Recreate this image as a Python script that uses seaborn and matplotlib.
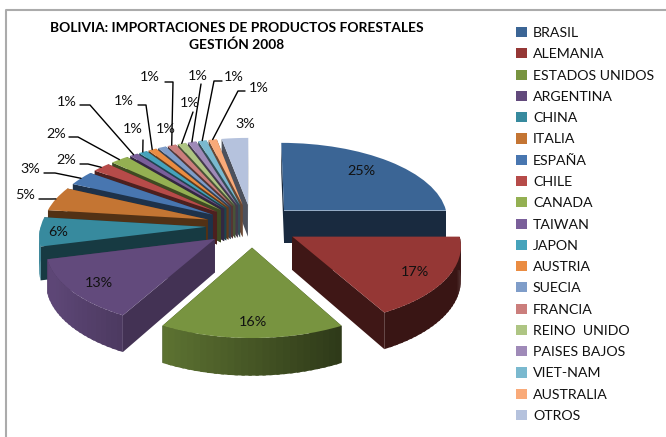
import numpy as np
import matplotlib

matplotlib.use("Agg")
import matplotlib.pyplot as plt
from matplotlib.colors import to_rgb
from matplotlib.transforms import Transform
import seaborn as sns

TITLE = "BOLIVIA: IMPORTACIONES DE PRODUCTOS FORESTALES\nGESTIÓN 2008"
COUNTRIES = [
    "BRASIL", "ALEMANIA", "ESTADOS UNIDOS", "ARGENTINA", "CHINA", "ITALIA",
    "ESPAÑA", "CHILE", "CANADA", "TAIWAN", "JAPON", "AUSTRIA", "SUECIA",
    "FRANCIA", "REINO  UNIDO", "PAISES BAJOS", "VIET-NAM", "AUSTRALIA", "OTROS",
]
SHARES = [25.0, 17.0, 16.0, 13.0, 6.0, 5.0, 3.0, 2.0, 2.0,
          0.9, 0.9, 0.9, 0.9, 0.9, 0.9, 0.9, 0.9, 0.9, 2.9]
COLORS = [
    "#3b6595", "#953735", "#789440", "#624a7c", "#378a9e", "#c47533", "#4876b0",
    "#b64b49", "#94b052", "#7a5f9a", "#46a3bb", "#ea8c42", "#7f9dc9", "#cb7e7c",
    "#aec583", "#9f8ab8", "#7ab9cf", "#f9aa79", "#b5c2dd",
]

# label centres in pixels of the 666x437 picture
LABEL_XY = [
    (361, 171), (415, 272), (253, 322), (99, 283), (58, 232), (25, 195),
    (30, 169), (66, 160), (56, 134), (67, 102), (133, 129), (124, 101),
    (166, 129), (150, 77), (190, 103), (198, 76), (234, 77), (259, 88), (245, 124),
]
# leader line points before the slice, None = no leader
LEADERS = [
    None, None, None, None, None,
    [(39, 199), (52, 199)],
    [(44, 173), (55, 173)],
    [(80, 164), (88, 164)],
    [(69, 137), (78, 137)],
    [(80, 105), (90, 105)],
    [(143, 140)],
    [(138, 105), (146, 105)],
    None,
    [(165, 82), (173, 82)],
    [(193, 112)],
    [(201, 84)],
    [(222, 81), (214, 81)],
    [(245, 91), (238, 91)],
    None,
]

# 3d look of the pie, fitted on the reference
CX, CY = 252, 225.5
RX, RY = 165, 77
PERSP = 0.097
DEPTH = 33
EXPLODE = 0.28


def project(u, v, z=0.0):
    u, v = np.asarray(u, float), np.asarray(v, float)
    s = 1 / (1 + PERSP * v)
    return CX + RX * u * s, CY - RY * v * s + DEPTH * z * s


class PieProjection(Transform):
    input_dims = 2
    output_dims = 2

    def transform_non_affine(self, values):
        x, y = project(values[:, 0], values[:, 1])
        return np.column_stack([x, y])


def darker(color, factor):
    return tuple(c * factor for c in to_rgb(color))


sns.set_theme(style="white")
plt.rcParams["font.family"] = ["Lato", "DejaVu Sans"]
palette = sns.color_palette(COLORS)

fig = plt.figure(figsize=(6.66, 4.37), dpi=100)
ax = fig.add_axes([0, 0, 1, 1])

wedges, _ = ax.pie(
    SHARES,
    colors=palette,
    startangle=90,
    counterclock=False,
    explode=[EXPLODE] * len(SHARES),
    wedgeprops={"linewidth": 0},
)
ax.set_aspect("auto")
ax.set_xlim(0, 666)
ax.set_ylim(437, 0)

projection = PieProjection() + ax.transData
back_first = sorted(range(len(wedges)), key=lambda k: -wedges[k].center[1])

for rank, k in enumerate(back_first):
    w = wedges[k]
    cu, cv = w.center
    color = palette[k]
    z = 2 + rank * 0.1
    w.set_transform(projection)
    w.set_zorder(z + 0.05)

    # flat sides of the slice
    side = darker(color, 0.68 if COUNTRIES[k] == "ARGENTINA" else 0.42)
    for angle in (w.theta1, w.theta2):
        eu, ev = cu + np.cos(np.radians(angle)), cv + np.sin(np.radians(angle))
        x0, y0 = project([cu, eu], [cv, ev])
        x1, y1 = project([eu, cu], [ev, cv], 1.0)
        ax.fill(np.r_[x0, x1], np.r_[y0, y1], color=side, lw=0, zorder=z)

    # rim, lit from the left, front half only
    steps = np.linspace(w.theta1, w.theta2, max(3, int((w.theta2 - w.theta1) / 2)))
    for a0, a1 in zip(steps[:-1], steps[1:]):
        if np.sin(np.radians((a0 + a1) / 2)) > 0:
            continue
        mid = np.cos(np.radians((a0 + a1) / 2))
        shade = np.clip(0.58 - 0.41 * mid, 0.38, 0.95)
        # a little overlap so no seams show
        arc = np.radians([a0, min(a1 + 1.0, w.theta2)])
        eu, ev = cu + np.cos(arc), cv + np.sin(arc)
        x0, y0 = project(eu, ev)
        x1, y1 = project(eu[::-1], ev[::-1], 1.0)
        ax.fill(np.r_[x0, x1], np.r_[y0, y1], color=darker(color, shade), lw=0, zorder=z)

# percent labels and leaders
for k, w in enumerate(wedges):
    ax.text(*LABEL_XY[k], f"{SHARES[k]:.0f}%", ha="center", va="center",
            fontsize=10.4, color="#111111", zorder=10)
    if LEADERS[k] is not None:
        mid = np.radians((w.theta1 + w.theta2) / 2)
        ex, ey = project(w.center[0] + np.cos(mid), w.center[1] + np.sin(mid))
        xs = [p[0] for p in LEADERS[k]] + [float(ex)]
        ys = [p[1] for p in LEADERS[k]] + [float(ey)]
        ax.plot(xs, ys, color="black", lw=1, zorder=9)

ax.text(236.5, 36.5, TITLE, ha="center", va="center", fontsize=9.87,
        fontweight="bold", color="black", linespacing=1.45)

ax.legend(
    wedges,
    COUNTRIES,
    loc="upper left",
    bbox_to_anchor=(516 / 666, 1 - 27 / 437),
    frameon=False,
    fontsize=10.2,
    borderpad=0,
    borderaxespad=0,
    handlelength=0.8,
    handleheight=0.72,
    handletextpad=0.4,
    labelspacing=0.655,
    labelcolor="#111111",
)

# chart frame
ax.plot([5.5, 5.5, 666], [437, 10, 10], color="#ababab", lw=1.5, zorder=1)

fig.savefig("out.png", dpi=100)
